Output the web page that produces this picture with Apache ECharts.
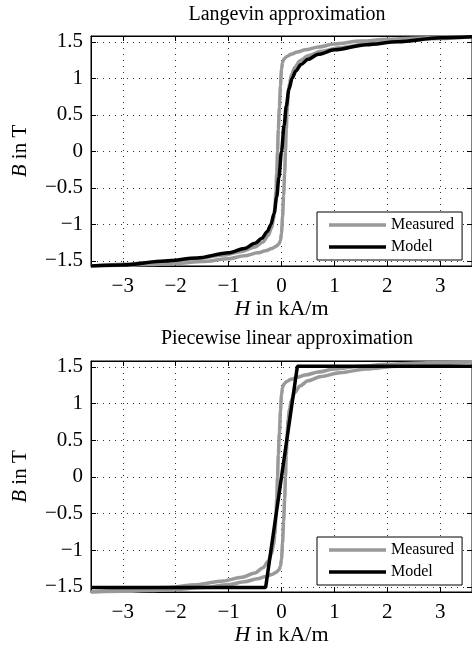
<!DOCTYPE html>
<html>
<head>
<meta charset="utf-8">
<script src="https://cdn.jsdelivr.net/npm/echarts@6/dist/echarts.min.js"></script>
<style>html,body{margin:0;padding:0;background:#fff;}#c{width:472px;height:648px;}</style>
</head>
<body>
<div id="c"></div>
<script>
// ---- data ----
const titles = ['Langevin approximation', 'Piecewise linear approximation'];
const xTicks = [-3, -2, -1, 0, 1, 2, 3];
const yTicks = [-1.5, -1, -0.5, 0, 0.5, 1, 1.5];

// Measured loop, descending branch (H decreasing)
const measDescH = [3.6, 3.0, 2.5, 2.0, 1.5, 1.0, 0.7, 0.45, 0.3, 0.18, 0.1, 0.05, 0.02, 0.0, -0.02, -0.04, -0.06, -0.075, -0.09, -0.105, -0.125, -0.15, -0.19, -0.25, -0.35, -0.5, -0.75, -1.1, -1.6, -2.2, -3.0, -3.6];
const measDescB = [1.57, 1.56, 1.55, 1.535, 1.51, 1.47, 1.43, 1.39, 1.36, 1.33, 1.3, 1.27, 1.22, 1.12, 0.9, 0.6, 0.3, 0, -0.3, -0.55, -0.78, -0.93, -1.05, -1.15, -1.24, -1.31, -1.37, -1.42, -1.47, -1.51, -1.545, -1.57];
// Measured loop, ascending branch (H increasing)
const measAscH = [-3.6, -3.0, -2.5, -2.0, -1.5, -1.0, -0.7, -0.45, -0.3, -0.18, -0.1, -0.05, -0.02, 0.0, 0.02, 0.04, 0.06, 0.075, 0.09, 0.105, 0.125, 0.15, 0.19, 0.25, 0.35, 0.5, 0.75, 1.1, 1.6, 2.2, 3.0, 3.6];
const measAscB = [-1.57, -1.56, -1.55, -1.535, -1.51, -1.47, -1.43, -1.39, -1.36, -1.33, -1.3, -1.27, -1.22, -1.12, -0.9, -0.6, -0.3, 0, 0.3, 0.55, 0.78, 0.93, 1.05, 1.15, 1.24, 1.31, 1.37, 1.42, 1.47, 1.51, 1.545, 1.57];

// Langevin model
const langH = [-3.6, -3.0, -2.2, -1.6, -1.0, -0.7, -0.5, -0.37, -0.27, -0.2, -0.14, -0.09, -0.05, 0, 0.05, 0.09, 0.14, 0.2, 0.27, 0.37, 0.5, 0.7, 1.0, 1.6, 2.2, 3.0, 3.6];
const langB = [-1.57, -1.555, -1.5, -1.46, -1.39, -1.33, -1.26, -1.19, -1.1, -1.0, -0.85, -0.62, -0.36, 0, 0.36, 0.62, 0.85, 1.0, 1.1, 1.19, 1.26, 1.33, 1.39, 1.46, 1.5, 1.555, 1.57];

// Piecewise linear model
const pwlH = [-3.6, -0.3, 0.3, 3.6];
const pwlB = [-1.51, -1.51, 1.51, 1.51];

// ---- build ----
const zip = (a, b) => a.map((v, i) => [v, b[i]]);
const serif = 'Liberation Serif';
const fmt = v => String(v).replace('-', '\u2212');

function xAxes(g) {
  return [
    {
      gridIndex: g, type: 'value', min: -3.6, max: 3.6, position: 'bottom',
      axisLine: { show: true, onZero: false, lineStyle: { color: '#000', width: 1 } },
      axisTick: { show: true, inside: true, length: 5, customValues: xTicks, lineStyle: { color: '#000' } },
      axisLabel: { customValues: xTicks, formatter: fmt, fontFamily: serif, fontSize: 21, color: '#000', margin: 10 },
      splitLine: { show: true, lineStyle: { type: [1, 5], color: '#333', width: 1 } },
      name: '{i|H} in kA/m', nameLocation: 'middle', nameGap: 30,
      nameTextStyle: { fontFamily: serif, fontSize: 22, color: '#000', rich: { i: { fontFamily: serif, fontSize: 22, fontStyle: 'italic', color: '#000' } } }
    },
    {
      gridIndex: g, type: 'value', min: -3.6, max: 3.6, position: 'top',
      axisLine: { show: true, onZero: false, lineStyle: { color: '#000', width: 1 } },
      axisTick: { show: true, inside: true, length: 5, customValues: xTicks, lineStyle: { color: '#000' } },
      axisLabel: { show: false }, splitLine: { show: false }
    }
  ];
}
function yAxes(g) {
  return [
    {
      gridIndex: g, type: 'value', min: -1.57, max: 1.58, position: 'left',
      axisLine: { show: true, onZero: false, lineStyle: { color: '#000', width: 1 } },
      axisTick: { show: true, inside: true, length: 5, customValues: yTicks, lineStyle: { color: '#000' } },
      axisLabel: { customValues: yTicks, formatter: fmt, fontFamily: serif, fontSize: 21, color: '#000', margin: 8 },
      splitLine: { show: true, lineStyle: { type: [1, 5], color: '#333', width: 1 } },
      name: '{i|B} in T', nameLocation: 'middle', nameGap: 60, nameRotate: 90,
      nameTextStyle: { fontFamily: serif, fontSize: 21, color: '#000', rich: { i: { fontFamily: serif, fontSize: 21, fontStyle: 'italic', color: '#000' } } }
    },
    {
      gridIndex: g, type: 'value', min: -1.57, max: 1.58, position: 'right',
      axisLine: { show: true, onZero: false, lineStyle: { color: '#000', width: 1 } },
      axisTick: { show: true, inside: true, length: 5, customValues: yTicks, lineStyle: { color: '#000' } },
      axisLabel: { show: false }, splitLine: { show: false }
    }
  ];
}
function legend(top) {
  return {
    left: 317, top: top, orient: 'vertical', data: ['Measured', 'Model'],
    icon: 'path://M0,0H114V7H0Z',
    backgroundColor: '#fff', borderColor: '#000', borderWidth: 1, borderRadius: 0,
    padding: [5, 8, 5, 12], itemWidth: 57, itemHeight: 14, itemGap: 6,
    textStyle: { fontFamily: serif, fontSize: 16, color: '#000' }
  };
}
const measStyle = { color: '#999', width: 3.5 };
const modelStyle = { color: '#000', width: 3.5 };
function lineSeries(name, x, y, data, style) {
  return { name: name, type: 'line', xAxisIndex: x, yAxisIndex: y, data: data, showSymbol: false, symbol: 'none',
    smooth: 0.3, smoothMonotone: 'x', lineStyle: style, itemStyle: { color: style.color }, animation: false };
}

const option = {
  animation: false,
  backgroundColor: '#fff',
  title: [
    { text: titles[0], left: 282, top: 0, textAlign: 'center', textStyle: { fontFamily: serif, fontSize: 20, fontWeight: 'normal', color: '#000' } },
    { text: titles[1], left: 282, top: 324, textAlign: 'center', textStyle: { fontFamily: serif, fontSize: 20, fontWeight: 'normal', color: '#000' } }
  ],
  grid: [
    { left: 91, top: 36, right: -1, height: 230, show: true, borderColor: '#000', borderWidth: 1, backgroundColor: '#fff' },
    { left: 91, top: 361, right: -1, height: 231, show: true, borderColor: '#000', borderWidth: 1, backgroundColor: '#fff' }
  ],
  xAxis: xAxes(0).concat(xAxes(1)),
  yAxis: yAxes(0).concat(yAxes(1)),
  legend: [legend(212), legend(537)],
  series: [
    lineSeries('Measured', 0, 0, zip(measDescH, measDescB), measStyle),
    lineSeries('Measured', 0, 0, zip(measAscH, measAscB), measStyle),
    lineSeries('Model', 0, 0, zip(langH, langB), modelStyle),
    lineSeries('Measured', 2, 2, zip(measDescH, measDescB), measStyle),
    lineSeries('Measured', 2, 2, zip(measAscH, measAscB), measStyle),
    Object.assign(lineSeries('Model', 2, 2, zip(pwlH, pwlB), modelStyle), { smooth: false })
  ]
};
const chart = echarts.init(document.getElementById('c'), null, { renderer: 'canvas' });
chart.setOption(option);
</script>
</body>
</html>
